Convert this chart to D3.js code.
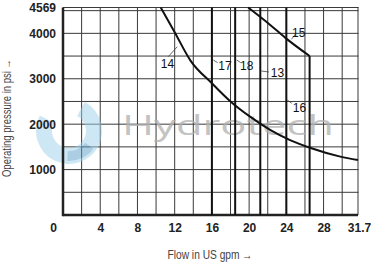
<!DOCTYPE html>
<html>
<head>
<meta charset="utf-8">
<script src="https://cdn.jsdelivr.net/npm/d3@7"></script>
<style>
  body { margin: 0; background: #fff; }
  svg { display: block; }
</style>
</head>
<body>
<div id="chart"></div>
<script>
// values
const xTicks = [0, 4, 8, 12, 16, 20, 24, 28, 31.7]
const yTicks = [1000, 2000, 3000, 4000, 4569]
const xGrid = [2, 4, 6, 8, 10, 12, 14, 16, 18, 20, 22, 24, 26, 28, 30, 31.7]
const yGrid = [500, 1000, 1500, 2000, 2500, 3000, 3500, 4000, 4500, 4569]

// curve 14 (flow, pressure)
const curve14 = [[10.5, 4569], [12.0, 4025], [13.7, 3400], [16.0, 2900], [18.0, 2500], [20.1, 2165],
  [22.3, 1870], [24.4, 1650], [26.7, 1470], [29.8, 1285], [31.7, 1210]]
// curve 15 with its vertical drop
const curve15 = [[19.9, 4569], [22.3, 4180], [23.9, 3900], [26.5, 3500]]
const drop15 = [[26.5, 3500], [26.5, 0]]
// constant flow lines
const flowLines = [
  { name: '17', flow: 16.0 },
  { name: '18', flow: 18.5 },
  { name: '13', flow: 21.2 },
  { name: '16', flow: 24.0 },
]
// curve labels: text start, leader from / to (flow, pressure)
const labels = [
  { name: '14', text: [10.5, 3237], from: [12.28, 3706], to: [11.31, 3486] },
  { name: '17', text: [16.69, 3193], from: [16.15, 3413], to: [16.62, 3354] },
  { name: '18', text: [19.02, 3193], from: [18.67, 3413], to: [19.1, 3354] },
  { name: '13', text: [22.32, 3039], from: [21.3, 3171], to: [22.13, 3149] },
  { name: '15', text: [24.62, 3919], from: [24.55, 3869], to: [25.0, 3990] },
  { name: '16', text: [24.69, 2268], from: [24.1, 2532], to: [24.58, 2459] },
]

const svg = d3.select('#chart').append('svg').attr('width', 371).attr('height', 263)

const x = d3.scaleLinear().domain([0, 31.7]).range([63, 358])
const y = d3.scaleLinear().domain([0, 4569]).range([215, 7.5])

const font = 'Liberation Sans, Arial, sans-serif'

// grid, as thin filled rects
const grid = svg.append('g')
grid.selectAll('.vgrid').data(xGrid).join('rect').attr('class', 'vgrid')
  .attr('x', (d) => x(d) - 0.5).attr('y', y(4569) - 0.5)
  .attr('width', 1).attr('height', y(0) - y(4569) + 0.5)
  .attr('fill', '#3a3a3a')
grid.selectAll('.hgrid').data(yGrid).join('rect').attr('class', 'hgrid')
  .attr('x', x(0)).attr('y', (d) => y(d) - 0.5)
  .attr('width', x(31.7) - x(0) + 0.5).attr('height', 1)
  .attr('fill', '#3a3a3a')

// watermark
const logo = svg.append('g').attr('transform', 'translate(69,131)').attr('opacity', 0.5)
logo.append('path')
  .attr('d', d3.arc().innerRadius(17).outerRadius(33).startAngle(0.5).endAngle(5.2)())
  .attr('fill', '#9fd0ea')
logo.append('path')
  .attr('d', d3.arc().innerRadius(20).outerRadius(30).startAngle(2.2).endAngle(3.2)())
  .attr('fill', '#5a9fc8')
svg.append('text')
  .attr('x', 122).attr('y', 135)
  .attr('textLength', 212).attr('lengthAdjust', 'spacingAndGlyphs')
  .style('font-family', 'Open Sans, sans-serif')
  .style('font-size', '27px')
  .attr('fill', '#b0b0b0').attr('opacity', 0.75)
  .text('Hydrotech')

// axes
const xAxis = svg.append('g')
  .attr('transform', `translate(0,${y(0)})`)
  .call(d3.axisBottom(x).tickValues(xTicks).tickSize(0).tickPadding(8)
    .tickFormat((d) => (d === 31.7 ? '31.7' : d)))
xAxis.select('.domain').remove()
xAxis.selectAll('text')
  .style('font-family', font).style('font-size', '12px').style('font-weight', 'bold').attr('fill', '#222')
  .attr('dx', (d) => (d === 0 ? -10 : d === 31.7 ? 1 : 0))

const yAxis = svg.append('g')
  .attr('transform', `translate(${x(0)},0)`)
  .call(d3.axisLeft(y).tickValues(yTicks).tickSize(0).tickPadding(7).tickFormat(d3.format('d')))
yAxis.select('.domain').remove()
yAxis.selectAll('text')
  .style('font-family', font).style('font-size', '12px').style('font-weight', 'bold').attr('fill', '#222')

// axis lines
svg.append('line')
  .attr('x1', x(0)).attr('x2', x(31.7)).attr('y1', y(0)).attr('y2', y(0))
  .attr('stroke', '#222').attr('stroke-width', 2.5)
svg.append('line')
  .attr('x1', x(0)).attr('x2', x(0)).attr('y1', y(0) + 1.2).attr('y2', y(4569))
  .attr('stroke', '#222').attr('stroke-width', 2.5)

// flow lines
svg.append('g')
  .selectAll('line')
  .data(flowLines)
  .join('line')
  .attr('x1', (d) => x(d.flow)).attr('x2', (d) => x(d.flow))
  .attr('y1', y(0)).attr('y2', y(4569))
  .attr('stroke', '#111').attr('stroke-width', 2)

const lineGen = d3.line().x((d) => x(d[0])).y((d) => y(d[1]))
svg.append('path')
  .attr('d', lineGen.curve(d3.curveMonotoneX)(curve14))
  .attr('fill', 'none').attr('stroke', '#111').attr('stroke-width', 2)
svg.append('path')
  .attr('d', lineGen.curve(d3.curveMonotoneX)(curve15))
  .attr('fill', 'none').attr('stroke', '#111').attr('stroke-width', 2)
svg.append('path')
  .attr('d', lineGen.curve(d3.curveLinear)(drop15))
  .attr('fill', 'none').attr('stroke', '#111').attr('stroke-width', 2)

// labels with leader lines
const lab = svg.append('g')
lab.selectAll('line')
  .data(labels)
  .join('line')
  .attr('x1', (d) => x(d.from[0])).attr('y1', (d) => y(d.from[1]))
  .attr('x2', (d) => x(d.to[0])).attr('y2', (d) => y(d.to[1]))
  .attr('stroke', '#444').attr('stroke-width', 0.8)
lab.selectAll('text')
  .data(labels)
  .join('text')
  .attr('x', (d) => x(d.text[0]))
  .attr('y', (d) => y(d.text[1]))
  .style('font-family', font).style('font-size', '12px')
  .attr('fill', '#111')
  .text((d) => d.name)

// axis titles
svg.append('text')
  .attr('transform', 'translate(11,118) rotate(-90)')
  .attr('text-anchor', 'middle')
  .attr('textLength', 118).attr('lengthAdjust', 'spacingAndGlyphs')
  .style('font-family', font).style('font-size', '12px')
  .attr('fill', '#444')
  .text('Operating pressure in psi \u2192')

svg.append('text')
  .attr('x', 210).attr('y', 259)
  .attr('text-anchor', 'middle')
  .attr('textLength', 85).attr('lengthAdjust', 'spacingAndGlyphs')
  .style('font-family', font).style('font-size', '12px')
  .attr('fill', '#444')
  .text('Flow in US gpm \u2192')
</script>
</body>
</html>
